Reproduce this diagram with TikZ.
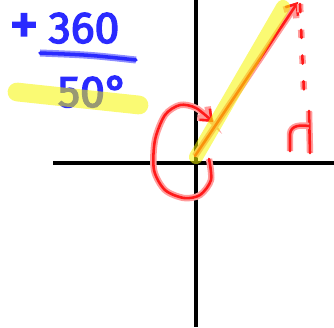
\documentclass[tikz,border=0pt]{standalone}
\usepackage{fontspec}
\setsansfont[FakeBold=3]{Fira Sans}
\usetikzlibrary{arrows.meta}
\definecolor{penRed}{HTML}{FF1A1A}
\definecolor{glowRed}{HTML}{FF9C9C}
\definecolor{penBlue}{HTML}{2A2AFF}
\definecolor{glowBlue}{HTML}{8C8CFF}
\definecolor{markYellow}{HTML}{F5F500}

\begin{document}
\begin{tikzpicture}[
    x=0.03cm, y=-0.03cm,
    axis/.style={line width=4.2pt, black},
    redpen/.style={draw=penRed, line width=2.2pt, line cap=round, line join=round,
                   preaction={draw=glowRed, line width=5.5pt}},
    dashpen/.style={draw=penRed, line width=2.2pt, line cap=round,
                    dash pattern=on 7pt off 15pt,
                    preaction={draw=glowRed, line width=5.5pt, dash pattern=on 7pt off 15pt}},
    bluepen/.style={draw=penBlue, line width=3pt, line cap=round,
                    preaction={draw=glowBlue, line width=6pt}},
    hl/.style={markYellow, opacity=0.55, line cap=round},
    tip/.style={-{Straight Barb[length=8pt, width=13pt]}},
    hand/.style={text=penBlue, inner sep=0pt,
                 font=\sffamily\fontsize{38}{38}\selectfont},
  ]
    \useasboundingbox (0,0) rectangle (334,327);

    % axes
    \draw[axis] (196,0) -- (196,327);
    \draw[axis] (53,163) -- (334,163);

    % turn round the origin
    \draw[redpen, tip] plot[smooth] coordinates {(209,159) (211,180) (200,195)
      (184,198) (165,190) (154,170) (155,140) (165,115) (180,105) (196,108) (213,122)};

    % terminal side
    \draw[redpen, tip] (195,156) -- (298,2);

    % dashed drop and mark
    \draw[dashpen] (300,4) -- (304,93);
    \draw[redpen] (309,111) -- (310,153);
    \draw[redpen] (290,151) -- (290,134) .. controls (291,125) and (300,125) .. (309,126);

    % sum
    \node[hand, font=\sffamily\fontsize{50}{50}\selectfont] (plus) at (24,29) {+};
    \node[hand, anchor=base] (turn) at (84,43) {360};
    \draw[bluepen] (40,53) .. controls (90,55) .. (136,60);
    \node[hand, anchor=base] (angle) at (93,107) {50°};

    % highlighter
    \draw[hl, line width=12pt] (196,157) -- (283,7);
    \draw[hl, line width=16pt] (17,92) -- (139,105);
\end{tikzpicture}
\end{document}
